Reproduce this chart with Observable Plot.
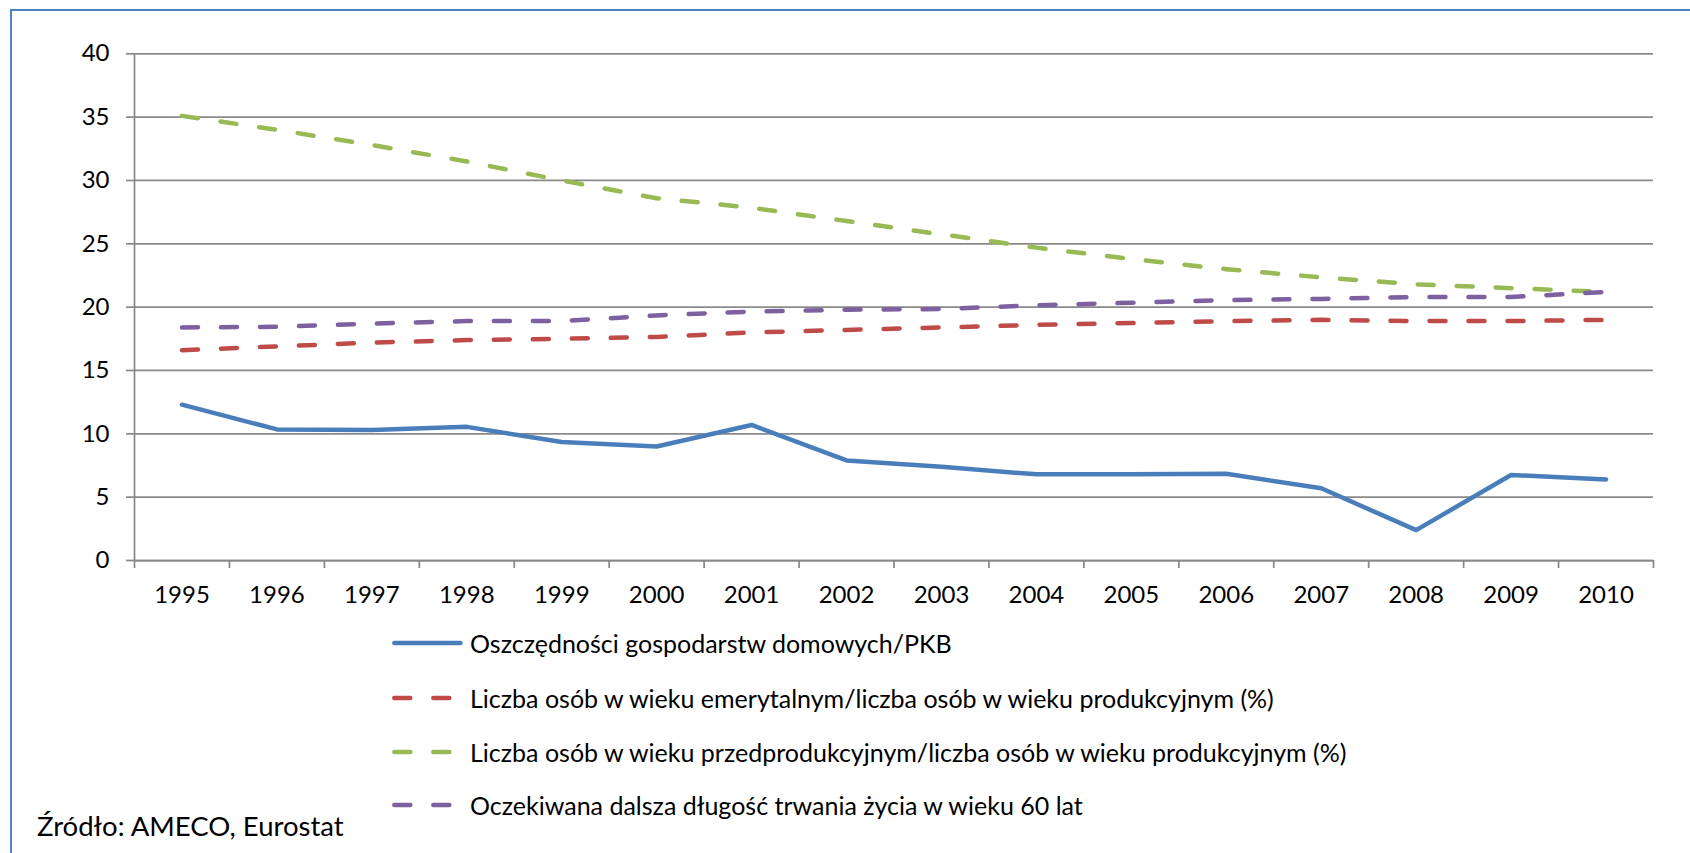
<!DOCTYPE html>
<html>
<head>
<meta charset="utf-8">
<script src="https://cdn.jsdelivr.net/npm/d3@7"></script>
<script src="https://cdn.jsdelivr.net/npm/@observablehq/plot@0.6"></script>
<style>
  html, body { margin: 0; padding: 0; background: #fff; }
  #page { position: relative; width: 1690px; height: 853px; overflow: hidden;
          font-family: Lato, "Open Sans", sans-serif; color: #000; background: #fff; }
  #frame { position: absolute; left: 10px; top: 9px; width: 1750px; height: 950px;
           border-left: 2px solid #4F81BD; border-top: 2.5px solid #4F81BD; box-sizing: border-box; }
  #chart { position: absolute; left: 0; top: 0; }
  .legend-row { position: absolute; left: 392px; height: 30px; display: flex; align-items: center;
                font-size: 25px; white-space: nowrap; }
  .legend-row svg { margin-right: 7px; display: block; }
  #caption { position: absolute; left: 37px; top: 812px; font-size: 27.5px; line-height: 1; white-space: nowrap; }
</style>
</head>
<body>
<div id="page">
  <div id="frame"></div>
  <div id="chart"></div>
  <div id="legend"></div>
  <div id="caption">Źródło: AMECO, Eurostat</div>
</div>
<script>
// ---- data ----
const years = [1995, 1996, 1997, 1998, 1999, 2000, 2001, 2002, 2003, 2004, 2005, 2006, 2007, 2008, 2009, 2010];
const yTicks = [0, 5, 10, 15, 20, 25, 30, 35, 40];

const seriesNames = [
  "Oszczędności gospodarstw domowych/PKB",
  "Liczba osób w wieku emerytalnym/liczba osób w wieku produkcyjnym (%)",
  "Liczba osób w wieku przedprodukcyjnym/liczba osób w wieku produkcyjnym (%)",
  "Oczekiwana dalsza długość trwania życia w wieku 60 lat"
];
const savings   = [12.3, 10.35, 10.3, 10.55, 9.35, 9.0, 10.7, 7.9, 7.4, 6.8, 6.8, 6.85, 5.7, 2.4, 6.75, 6.4];
const oldAge    = [16.6, 16.9, 17.2, 17.4, 17.5, 17.65, 18.0, 18.2, 18.4, 18.6, 18.75, 18.9, 19.0, 18.9, 18.9, 19.0];
const young     = [35.1, 34.0, 32.8, 31.5, 30.0, 28.6, 27.85, 26.8, 25.75, 24.7, 23.8, 23.0, 22.35, 21.8, 21.5, 21.2];
const lifeExp   = [18.4, 18.45, 18.7, 18.9, 18.9, 19.35, 19.65, 19.8, 19.85, 20.15, 20.35, 20.55, 20.65, 20.8, 20.8, 21.2];
const seriesValues = [savings, oldAge, young, lifeExp];
const seriesColors = ["#4A7EBB", "#BE4B48", "#98B954", "#7D60A0"];
const seriesDash   = [null, "16,23", "16,23", "16,23"];

// ---- layout ----
const W = 1690, H = 620;
const plotLeft = 134, plotRight = 1653, plotTop = 53.3, plotBottom = 560;
const gridColor = "#8A8A8A";
const lineW = 4.5;

const tables = seriesValues.map((vals, s) => years.map((yr, i) => ({year: yr, value: vals[i], series: seriesNames[s]})));
const bounds = years.map(y => y - 0.5).concat([years[years.length - 1] + 0.5]);

const lineMarks = tables.map((t, s) => Plot.line(t, {
  x: "year", y: "value",
  stroke: seriesColors[s], strokeWidth: lineW,
  strokeDasharray: seriesDash[s] || undefined,
  strokeLinecap: "round", strokeLinejoin: "round"
}));

const chart = Plot.plot({
  width: W, height: H,
  marginLeft: plotLeft, marginRight: W - plotRight,
  marginTop: plotTop, marginBottom: H - plotBottom,
  x: {type: "linear", domain: [bounds[0], bounds[bounds.length - 1]]},
  y: {type: "linear", domain: [yTicks[0], yTicks[yTicks.length - 1]]},
  style: {fontFamily: "Lato, 'Open Sans', sans-serif", fontSize: "24px", color: "#000", background: "transparent", overflow: "visible"},
  marks: [
    Plot.gridY(yTicks, {stroke: gridColor, strokeOpacity: 1, strokeWidth: 1.75}),
    Plot.axisY(yTicks, {tickSize: 8, tickPadding: 17, stroke: gridColor, strokeOpacity: 1, strokeWidth: 1.75,
                        tickFormat: d => String(d), label: null, fontSize: 24, fill: "#000"}),
    Plot.ruleX([bounds[0]], {stroke: gridColor, strokeWidth: 1.75}),
    Plot.ruleY([yTicks[0]], {stroke: gridColor, strokeWidth: 1.75}),
    Plot.axisX(bounds, {tickSize: 8, tickFormat: () => "", stroke: gridColor, strokeOpacity: 1, strokeWidth: 1.75, label: null}),
    Plot.axisX(years, {tickSize: 0, tickPadding: 25, tickFormat: d => String(d), label: null, fontSize: 24, fill: "#000"}),
    ...lineMarks
  ]
});
document.getElementById("chart").appendChild(chart);

// ---- legend ----
const legendCenters = [643, 697.5, 751.5, 805];
const legend = document.getElementById("legend");
seriesNames.forEach((name, s) => {
  const row = document.createElement("div");
  row.className = "legend-row";
  row.style.top = (legendCenters[s] - 15) + "px";
  const sw = d3.create("svg").attr("width", 71).attr("height", 10);
  sw.append("line").attr("x1", 2.3).attr("x2", 68.5).attr("y1", 5).attr("y2", 5)
    .attr("stroke", seriesColors[s]).attr("stroke-width", lineW)
    .attr("stroke-linecap", "round")
    .attr("stroke-dasharray", seriesDash[s] || null);
  row.appendChild(sw.node());
  const span = document.createElement("span");
  span.textContent = name;
  row.appendChild(span);
  legend.appendChild(row);
});
</script>
</body>
</html>
